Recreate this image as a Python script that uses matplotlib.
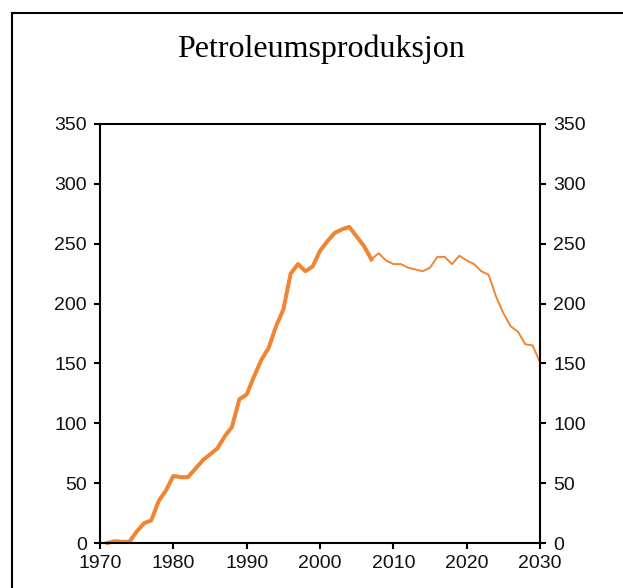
import matplotlib
matplotlib.use("Agg")
import matplotlib.pyplot as plt
from matplotlib.patches import Rectangle

# Historical production (thick line)
hist_years = list(range(1971, 2008))
hist_values = [0, 1.5, 1, 1, 9.5, 16.5, 19, 35, 44, 56, 55, 55, 62, 69, 74, 79, 89, 97,
               120, 124, 139, 153, 163, 181, 195, 225, 233, 227, 231, 244, 252, 259,
               262, 264, 256, 248, 237]

# Projection (thin line)
proj_years = list(range(2007, 2031))
proj_values = [237, 242, 236, 233, 233, 230, 228.5, 227, 230, 239, 239, 233, 240, 236,
               233, 227, 224, 206, 192, 181, 176.5, 166, 165, 151]

title = "Petroleumsproduksjon"
y_ticks = [0, 50, 100, 150, 200, 250, 300, 350]
x_ticks = [1970, 1980, 1990, 2000, 2010, 2020, 2030]

color = "#F08533"

fig = plt.figure(figsize=(6.23, 5.88), dpi=100)
ax = fig.add_axes([100/623, 1-543/588, 440/623, 419/588])

ax.plot(hist_years, hist_values, color=color, lw=2.9, solid_joinstyle="round", clip_on=False)
ax.plot(proj_years, proj_values, color=color, lw=1.4, solid_joinstyle="round", clip_on=False)

ax.set_xlim(1970, 2030)
ax.set_ylim(0, 350)
ax.set_xticks(x_ticks)
ax.set_yticks(y_ticks)

for s in ax.spines.values():
    s.set_linewidth(1.5)
    s.set_color("black")

ax.tick_params(axis="y", left=True, right=True, labelleft=True, labelright=True,
               direction="out", length=4.5, width=1.5, pad=5)
ax.tick_params(axis="x", bottom=True, top=False, direction="out", length=4.5,
               width=1.5, pad=4.5)
for t in ax.yaxis.get_major_ticks() + ax.xaxis.get_major_ticks():
    for lab in (t.label1, t.label2):
        lab.set_fontfamily("Liberation Sans")
        lab.set_fontsize(14)
        lab.set_color("#111111")

fig.text(320.5/623, 1-57/588, title, ha="center", va="baseline",
         fontfamily="Liberation Serif", fontsize=23)

# outer frame (extends past the right and bottom edges)
fig.patches.append(Rectangle((12/623, -0.2), 1.2, 0.2 + (1-13/588), transform=fig.transFigure,
                             fill=False, edgecolor="black", linewidth=1.5, clip_on=False))

fig.savefig("out.png", dpi=100)
